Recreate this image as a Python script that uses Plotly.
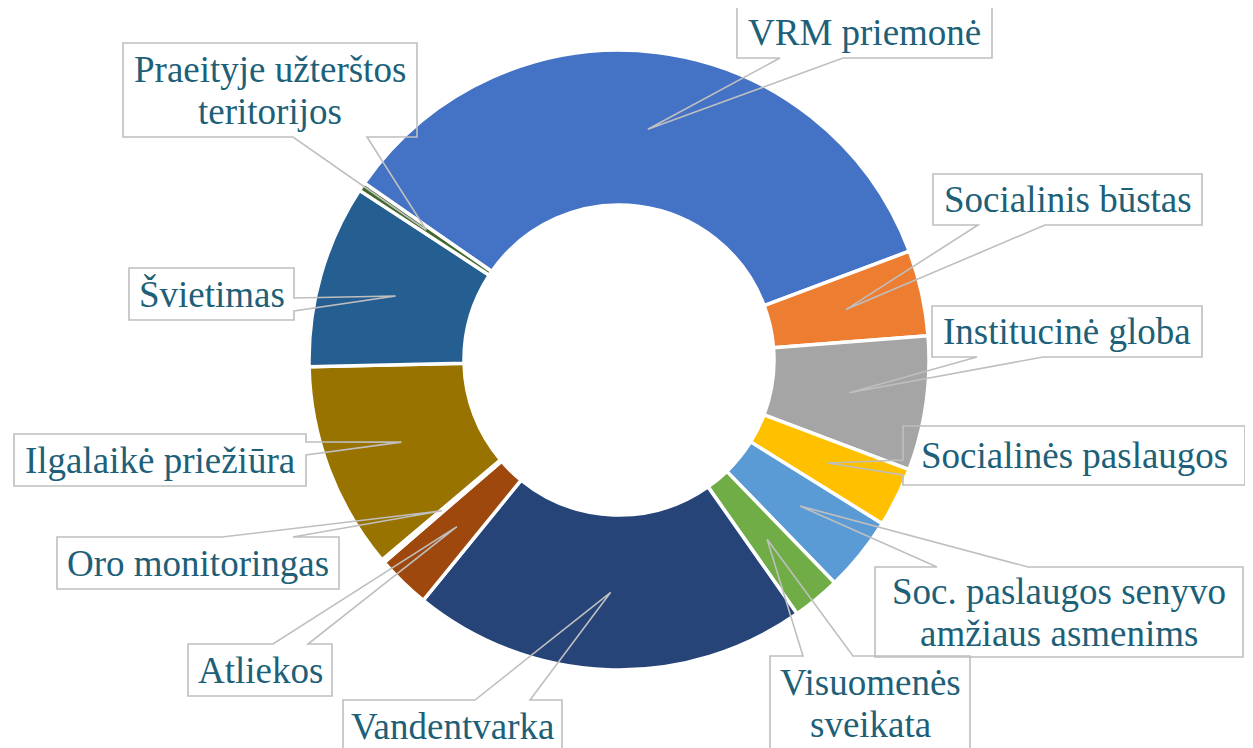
import math
import plotly.graph_objects as go

# the page body has an 8px default margin; the figure is sized / shifted to fit the window
OFF = 8
W, H = 1253 - OFF, 748 - OFF

# ---------------- data ----------------
categories = [
    "VRM priemonė", "Socialinis būstas", "Institucinė globa", "Socialinės paslaugos",
    "Soc. paslaugos senyvo amžiaus asmenims", "Visuomenės sveikata", "Vandentvarka",
    "Atliekos", "Oro monitoringas", "Ilgalaikė priežiūra", "Švietimas",
    "Praeityje užterštos teritorijos",
]
values = [34.6, 4.45, 7.0, 3.1, 3.9, 2.5, 20.6, 2.8, 0.17, 10.8, 9.55, 0.45]
label_lines = [
    ["VRM priemonė"], ["Socialinis būstas"], ["Institucinė globa"], ["Socialinės paslaugos"],
    ["Soc. paslaugos senyvo", "amžiaus asmenims"], ["Visuomenės", "sveikata"], ["Vandentvarka"],
    ["Atliekos"], ["Oro monitoringas"], ["Ilgalaikė priežiūra"], ["Švietimas"],
    ["Praeityje užterštos", "teritorijos"],
]
colors = ["#4472C4", "#ED7D31", "#A5A5A5", "#FFC000", "#5B9BD5", "#70AD47",
          "#264478", "#9E480E", "#636363", "#997300", "#255E91", "#43682B"]

# ---------------- layout of the donut (window pixels) ----------------
CX, CY, R = 619.0, 360.0, 310.0
HOLE = 0.5
ROTATION = -55.2
ANCHOR_R = (1 + HOLE) / 2 * R

# callout boxes (window pixels): (x0, y0, x1, y1), side where the pointer leaves, pointer base
callouts = [
    ((737, 7, 992, 58), "bottom", (780, 843)),
    ((933, 174, 1202, 225), "bottom", (978, 1045)),
    ((932, 306, 1202, 357), "bottom", (977, 1043)),
    ((903, 426, 1245, 485), "left", (460, 475)),
    ((875, 567, 1243, 657), "top", (937, 1028)),
    ((770, 656, 970, 750), "top", (803, 853)),
    ((343, 700, 562, 752), "top", (475, 530)),
    ((188, 644, 332, 696), "top", (273, 308)),
    ((57, 537, 339, 589), "top", (222, 293)),
    ((14, 434, 306, 486), "right", (442, 455)),
    ((129, 268, 294, 320), "right", (298, 311)),
    ((123, 43, 417, 137), "bottom", (293, 367)),
]

TEXT_COLOR = "#205F78"
BORDER = "#BFBFBF"
FONT = "Liberation Serif, Times New Roman, serif"
FSIZE = 37
LINE_GAP = 42


def fx(x):
    return (x - OFF) / W


def fy(y):
    return 1 - (y - OFF) / H


def P(x, y):
    return f"{fx(x):.5f},{fy(y):.5f}"


fig = go.Figure(go.Pie(
    labels=categories,
    values=values,
    hole=HOLE,
    sort=False,
    direction="clockwise",
    rotation=ROTATION,
    marker=dict(colors=colors, line=dict(color="white", width=3.5)),
    textinfo="none",
    hoverinfo="label+percent",
    showlegend=False,
    domain=dict(x=[fx(CX - R), fx(CX + R)],
                y=[fy(CY + R), fy(CY - R)]),
))

total = sum(values)
cum = 0.0
shapes = []
annotations = []
for v, lines, (box, side, (a, b)) in zip(values, label_lines, callouts):
    mid = math.radians(ROTATION + 360.0 * (cum + v / 2) / total)
    cum += v
    ax = CX + ANCHOR_R * math.sin(mid)
    ay = CY - ANCHOR_R * math.cos(mid)
    x0, y0, x1, y1 = box
    if side == "bottom":
        pts = [(x0, y0), (x1, y0), (x1, y1), (b, y1), (ax, ay), (a, y1), (x0, y1)]
    elif side == "top":
        pts = [(x0, y0), (a, y0), (ax, ay), (b, y0), (x1, y0), (x1, y1), (x0, y1)]
    elif side == "left":
        pts = [(x0, y0), (x1, y0), (x1, y1), (x0, y1), (x0, b), (ax, ay), (x0, a)]
    else:
        pts = [(x0, y0), (x1, y0), (x1, a), (ax, ay), (x1, b), (x1, y1), (x0, y1)]
    path = "M" + " L".join(P(x, y) for x, y in pts) + " Z"
    shapes.append(dict(type="path", xref="paper", yref="paper", path=path,
                       line=dict(color=BORDER, width=1.6), fillcolor="rgba(0,0,0,0)",
                       layer="above"))
    cx = (x0 + x1) / 2
    cy = (y0 + y1) / 2
    n = len(lines)
    for i, t in enumerate(lines):
        ly = cy + (i - (n - 1) / 2) * LINE_GAP
        annotations.append(dict(x=fx(cx), y=fy(ly), xref="paper", yref="paper",
                                text=t, showarrow=False, xanchor="center", yanchor="middle",
                                font=dict(family=FONT, size=FSIZE, color=TEXT_COLOR)))

fig.update_layout(
    width=W, height=H,
    margin=dict(l=0, r=0, t=0, b=0),
    paper_bgcolor="white",
    plot_bgcolor="white",
    shapes=shapes,
    annotations=annotations,
)

fig.write_html("out.html")
